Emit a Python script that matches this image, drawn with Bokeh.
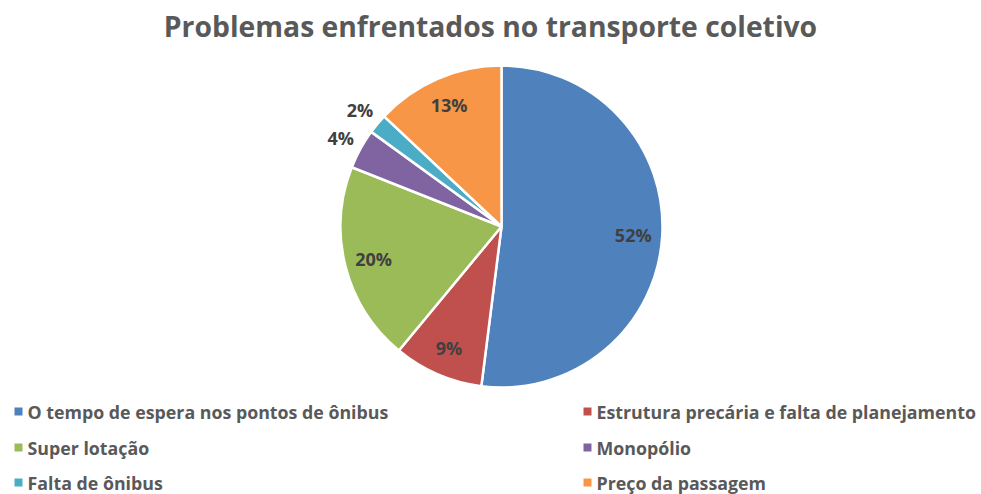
import numpy as np
from bokeh.plotting import figure
from bokeh.models import Range1d, ColumnDataSource
from bokeh.core.properties import value
from bokeh.embed import file_html
from bokeh.resources import INLINE

title = "Problemas enfrentados no transporte coletivo"
categories = [
    "O tempo de espera nos pontos de ônibus",
    "Estrutura precária e falta de planejamento",
    "Super lotação",
    "Monopólio",
    "Falta de ônibus",
    "Preço da passagem",
]
percent = [52, 9, 20, 4, 2, 13]
colors = ["#4F81BD", "#C0504D", "#9BBB59", "#8064A2", "#4BACC6", "#F79646"]

W, H = 981, 494
CX, CY = 501, 226  # pie centre, pixels from top-left of figure
R = 161

p = figure(width=W, height=H, output_backend="svg", toolbar_location=None,
           x_range=Range1d(-CX, W - CX), y_range=Range1d(-(H - CY), CY),
           min_border=0, outline_line_color=None)
p.axis.visible = False
p.grid.visible = False
p.background_fill_color = "white"
p.border_fill_color = "white"

vals = np.array(percent, dtype=float)
frac = vals / vals.sum()
cum = np.concatenate([[0], np.cumsum(frac)]) * 2 * np.pi  # clockwise from top
start = np.pi / 2 - cum[:-1]
end = np.pi / 2 - cum[1:]
mid = (cum[:-1] + cum[1:]) / 2

src = ColumnDataSource(dict(start=start, end=end, color=colors))
p.wedge(x=0, y=0, radius=R, start_angle="start", end_angle="end",
        direction="clock", fill_color="color", line_color="white",
        line_width=2.5, source=src)

# data labels
rf = np.where(frac < 0.05, 1.14, 0.82)
lx = np.sin(mid) * R * rf
ly = np.cos(mid) * R * rf
labels = [f"{v:.0f}%" for v in percent]
p.text(x=lx, y=ly, text=labels, text_align="center", text_baseline="middle",
       text_font=value("Open Sans"), text_font_style="bold",
       text_font_size="18px", text_color="#404040")

# title
p.text(x=[490 - CX], y=[CY - 25], text=[title], text_align="center",
       text_baseline="middle", text_font=value("Open Sans"),
       text_font_style="bold", text_font_size="28.3px", text_color="#595959")

# legend (two columns, three rows)
col_x = [18 - CX, 587 - CX]
row_y = [CY - 411, CY - 447, CY - 482]
mx, my = [], []
for i in range(len(categories)):
    c, r = i % 2, i // 2
    mx.append(col_x[c])
    my.append(row_y[r])
p.scatter(x=mx, y=my, marker="square", size=8, fill_color=colors,
          line_color=None)
p.text(x=[x + 9 for x in mx], y=my, text=categories, text_align="left",
       text_baseline="middle", text_font=value("Open Sans"),
       text_font_style="bold", text_font_size="17.8px", text_color="#595959")

open("out.html", "w").write(file_html(p, INLINE))
